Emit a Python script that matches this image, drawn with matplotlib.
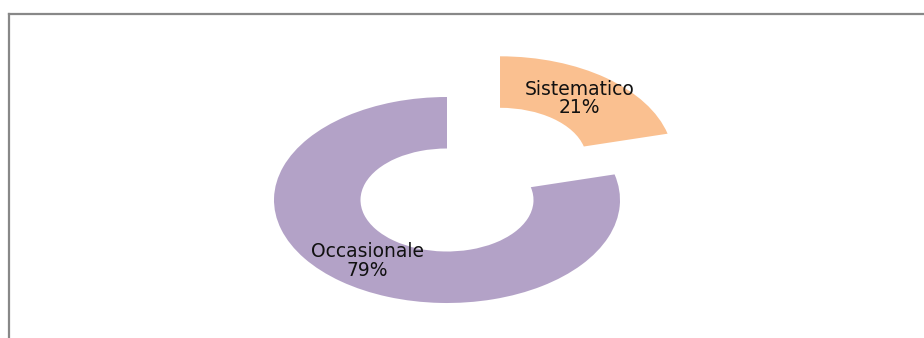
import matplotlib
matplotlib.use("Agg")
import matplotlib.pyplot as plt
from matplotlib.lines import Line2D

# Frequenza di utilizzo
categories = ["Sistematico", "Occasionale"]
shares = [21, 79]
colors = ["#FAC090", "#B3A2C7"]
explode = [0.5, 0]

fig = plt.figure(figsize=(9.24, 3.38), dpi=100)
fig.patch.set_facecolor("white")

# axes box spans the unit circle of the donut (stretched horizontally)
ax = fig.add_axes([274 / 924, 35 / 338, 346 / 924, 206 / 338])

labels = [f"{c}\n{s}%" for c, s in zip(categories, shares)]
wedges, texts = ax.pie(
    shares,
    labels=labels,
    colors=colors,
    explode=explode,
    startangle=90,
    counterclock=False,
    labeldistance=0.75,
    wedgeprops=dict(width=0.5, linewidth=0),
    textprops=dict(fontsize=13.5, color="#111111", linespacing=0.95),
)
for w in wedges:
    w.set_clip_on(False)
for t in texts:
    t.set_ha("center")
    t.set_va("center")
    t.set_clip_on(False)

ax.set_aspect("auto")
ax.set_xlim(-1, 1)
ax.set_ylim(-1, 1)
ax.axis("off")

# chart frame: top and left border
frame = "#888888"
fig.add_artist(Line2D([8.5 / 924, 1], [1 - 13.5 / 338, 1 - 13.5 / 338],
                      color=frame, linewidth=1.6, transform=fig.transFigure))
fig.add_artist(Line2D([8.5 / 924, 8.5 / 924], [0, 1 - 13.5 / 338],
                      color=frame, linewidth=1.6, transform=fig.transFigure))

fig.savefig("out.png", dpi=100, facecolor="white")
